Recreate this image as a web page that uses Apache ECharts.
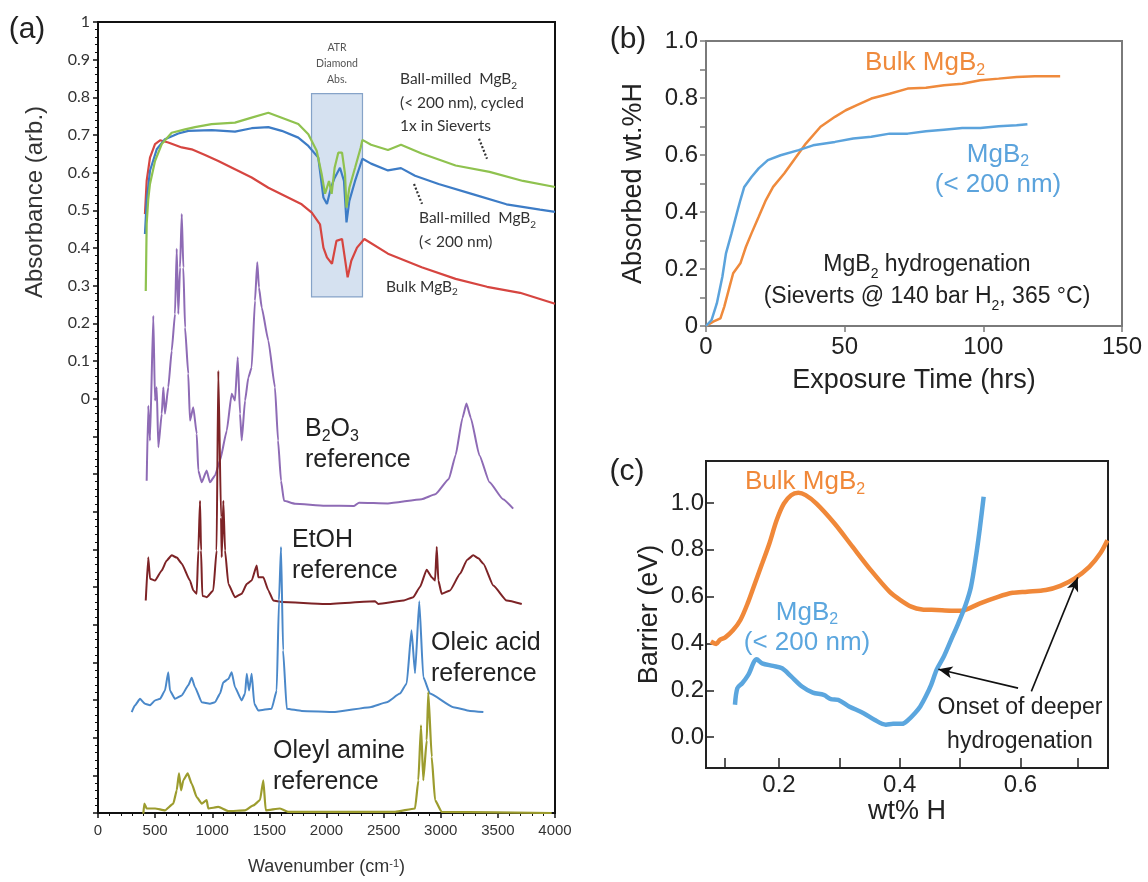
<!DOCTYPE html>
<html>
<head>
<meta charset="utf-8">
<title>MgB2 hydrogenation</title>
<script src="https://cdn.jsdelivr.net/npm/echarts@6.0.0/dist/echarts.min.js"></script>
<style>
  html, body { margin: 0; padding: 0; background: #fff; }
  #main { width: 1148px; height: 882px; }
</style>
</head>
<body>
<div id="main"></div>
<script>
// (a) FTIR spectra, [wavenumber (cm-1), absorbance (arb.)], references offset below 0
const cycledMgB2 = [[418,0.286],[426,0.464],[440,0.53],[455,0.570],[499,0.631],[558,0.676],[645,0.706],[762,0.715],[849,0.721],[994,0.729],[1199,0.733],[1345,0.746],[1491,0.759],[1608,0.746],[1753,0.729],[1841,0.702],[1914,0.658],[1957,0.597],[1987,0.544],[2022,0.578],[2045,0.544],[2071,0.613],[2103,0.653],[2136,0.653],[2162,0.597],[2175,0.507],[2200,0.560],[2250,0.613],[2299,0.666],[2314,0.687],[2390,0.674],[2538,0.660],[2652,0.674],[2833,0.651],[3130,0.619],[3427,0.602],[3720,0.578],[4000,0.562]];
const milledMgB2 = [[411,0.437],[426,0.525],[455,0.605],[514,0.662],[586,0.689],[703,0.704],[790,0.711],[995,0.713],[1199,0.709],[1345,0.718],[1491,0.721],[1608,0.711],[1753,0.693],[1841,0.671],[1928,0.640],[1973,0.534],[2004,0.517],[2039,0.560],[2071,0.586],[2118,0.613],[2153,0.578],[2175,0.468],[2200,0.525],[2250,0.578],[2314,0.637],[2390,0.624],[2538,0.606],[2652,0.612],[2775,0.592],[2981,0.570],[3278,0.543],[3575,0.516],[3869,0.502],[4000,0.496]];
const bulkMgB2 = [[411,0.490],[426,0.578],[455,0.640],[499,0.676],[543,0.686],[615,0.680],[733,0.667],[820,0.662],[937,0.647],[1053,0.631],[1199,0.609],[1345,0.587],[1491,0.560],[1637,0.538],[1783,0.516],[1871,0.494],[1943,0.463],[1973,0.401],[2004,0.375],[2048,0.358],[2087,0.419],[2136,0.424],[2168,0.358],[2185,0.322],[2217,0.366],[2267,0.401],[2331,0.424],[2538,0.385],[2833,0.349],[3130,0.318],[3405,0.297],[3694,0.281],[4000,0.252]];
const b2o3Ref = [[426,-0.218],[440,-0.019],[455,-0.111],[484,0.220],[499,-0.005],[514,0.030],[528,-0.129],[558,-0.040],[572,0.030],[586,-0.040],[615,0.030],[645,0.127],[674,0.225],[689,0.398],[703,0.225],[718,0.348],[733,0.490],[747,0.348],[762,0.189],[790,0.066],[805,-0.058],[834,-0.023],[864,-0.093],[878,-0.191],[908,-0.222],[951,-0.191],[980,-0.222],[1024,-0.204],[1068,-0.164],[1127,-0.085],[1170,0.013],[1199,-0.005],[1223,0.110],[1243,-0.040],[1258,-0.111],[1287,-0.005],[1316,0.056],[1345,0.083],[1374,0.260],[1394,0.362],[1409,0.295],[1433,0.242],[1491,0.154],[1549,0.030],[1576,-0.111],[1602,-0.218],[1628,-0.271],[1724,-0.279],[1987,-0.284],[2241,-0.285],[2285,-0.276],[2537,-0.278],[2833,-0.267],[2952,-0.254],[3071,-0.213],[3130,-0.150],[3190,-0.051],[3225,-0.013],[3263,-0.051],[3338,-0.150],[3427,-0.222],[3545,-0.267],[3634,-0.292]];
const etohRef = [[418,-0.536],[440,-0.421],[455,-0.478],[499,-0.483],[558,-0.456],[600,-0.430],[645,-0.416],[690,-0.422],[733,-0.438],[805,-0.483],[834,-0.509],[864,-0.518],[878,-0.403],[893,-0.271],[902,-0.403],[913,-0.523],[951,-0.527],[1009,-0.509],[1038,-0.403],[1053,0.074],[1077,-0.315],[1083,-0.421],[1097,-0.271],[1112,-0.403],[1141,-0.492],[1199,-0.527],[1258,-0.518],[1302,-0.492],[1345,-0.483],[1389,-0.443],[1403,-0.474],[1447,-0.474],[1491,-0.509],[1534,-0.536],[1608,-0.540],[1987,-0.545],[2425,-0.538],[2453,-0.545],[2672,-0.536],[2760,-0.527],[2818,-0.500],[2877,-0.454],[2921,-0.474],[2950,-0.483],[2965,-0.394],[2979,-0.483],[3008,-0.518],[3081,-0.509],[3169,-0.465],[3230,-0.428],[3285,-0.416],[3330,-0.424],[3373,-0.438],[3460,-0.496],[3577,-0.536],[3709,-0.545]];
const oleicRef = [[295,-0.832],[324,-0.814],[368,-0.797],[411,-0.810],[455,-0.814],[499,-0.801],[543,-0.797],[586,-0.775],[615,-0.726],[630,-0.775],[674,-0.797],[733,-0.788],[790,-0.761],[820,-0.741],[849,-0.766],[908,-0.806],[980,-0.810],[1024,-0.806],[1068,-0.783],[1097,-0.753],[1141,-0.744],[1170,-0.726],[1199,-0.766],[1258,-0.801],[1287,-0.783],[1302,-0.730],[1322,-0.775],[1345,-0.730],[1368,-0.810],[1403,-0.828],[1520,-0.823],[1564,-0.775],[1584,-0.536],[1602,-0.394],[1620,-0.668],[1652,-0.823],[1783,-0.829],[2074,-0.832],[2381,-0.819],[2527,-0.806],[2643,-0.783],[2702,-0.756],[2744,-0.615],[2775,-0.729],[2812,-0.538],[2847,-0.739],[2906,-0.783],[3110,-0.819],[3256,-0.829],[3373,-0.832]];
const oleylRef = [[397,-1.102],[405,-1.075],[426,-1.088],[499,-1.088],[586,-1.093],[659,-1.075],[689,-1.040],[709,-0.995],[727,-1.040],[747,-1.013],[785,-0.995],[820,-1.022],[864,-1.058],[908,-1.075],[951,-1.066],[965,-1.088],[1053,-1.084],[1141,-1.095],[1287,-1.093],[1359,-1.080],[1418,-1.066],[1447,-1.013],[1468,-1.093],[1593,-1.088],[1666,-1.097],[2600,-1.097],[2775,-1.088],[2804,-1.013],[2827,-0.867],[2847,-1.013],[2877,-0.907],[2891,-0.779],[2921,-0.951],[2950,-1.066],[3008,-1.097],[3971,-1.100]];
// ATR diamond absorption window [cm-1 range, absorbance range]
const atrBox = [[1869, 0.27], [2315, 0.81]];
// dotted leader lines from the labels to the curves
const leaders = [[[3335, 0.690], [3405, 0.637]], [[2766, 0.570], [2836, 0.517]]];

// (b) Sieverts uptake, [exposure time (hrs), absorbed wt.% H]
const bulkUptake = [[0,0],[2.6,0.015],[5.2,0.027],[6.6,0.068],[8.5,0.138],[9.8,0.185],[12.4,0.220],[14.4,0.278],[16.4,0.325],[19.0,0.383],[21.6,0.442],[24.2,0.488],[28.2,0.535],[32.1,0.588],[36.0,0.640],[41.3,0.699],[46.5,0.734],[50.4,0.757],[54.4,0.775],[59.6,0.798],[66.2,0.815],[72.7,0.833],[79.3,0.836],[85.8,0.845],[92.4,0.850],[98.9,0.862],[105.5,0.868],[112,0.874],[118.6,0.876],[127.7,0.876]];
const nanoUptake = [[0,0],[2,0.021],[3.9,0.079],[5.9,0.173],[7.2,0.255],[9.2,0.325],[11.1,0.395],[12.4,0.442],[13.8,0.488],[16.4,0.523],[19.0,0.553],[22.3,0.582],[26.9,0.599],[33.4,0.617],[38.6,0.634],[46.5,0.646],[53.1,0.658],[59.6,0.664],[66.2,0.675],[72.7,0.675],[79.3,0.683],[85.8,0.689],[92.4,0.695],[98.9,0.695],[105.5,0.701],[112,0.704],[115.9,0.708]];

// (c) barrier vs. hydrogen content, [wt% H, barrier (eV)]
const bulkBarrier = [[0.087,0.408],[0.096,0.398],[0.102,0.415],[0.111,0.426],[0.124,0.457],[0.136,0.500],[0.148,0.571],[0.160,0.656],[0.172,0.741],[0.184,0.827],[0.196,0.926],[0.208,0.997],[0.220,1.033],[0.232,1.043],[0.244,1.033],[0.262,0.997],[0.292,0.912],[0.322,0.812],[0.352,0.713],[0.383,0.621],[0.401,0.585],[0.419,0.557],[0.437,0.545],[0.461,0.543],[0.485,0.540],[0.503,0.540],[0.515,0.550],[0.533,0.571],[0.563,0.599],[0.587,0.616],[0.611,0.621],[0.642,0.628],[0.666,0.646],[0.690,0.678],[0.714,0.727],[0.732,0.784],[0.744,0.841]];
const nanoBarrier = [[0.127,0.138],[0.131,0.209],[0.139,0.230],[0.149,0.266],[0.163,0.332],[0.172,0.315],[0.190,0.304],[0.205,0.294],[0.220,0.259],[0.238,0.216],[0.256,0.190],[0.274,0.180],[0.286,0.162],[0.298,0.159],[0.316,0.131],[0.340,0.102],[0.358,0.074],[0.377,0.053],[0.389,0.057],[0.404,0.057],[0.413,0.071],[0.425,0.102],[0.434,0.131],[0.443,0.173],[0.452,0.223],[0.461,0.287],[0.473,0.344],[0.485,0.415],[0.497,0.486],[0.509,0.564],[0.518,0.642],[0.527,0.784],[0.533,0.898],[0.539,1.026]];
const onsetArrows = [[[0.596, 0.209], [0.464, 0.290]], [[0.618, 0.195], [0.695, 0.682]]];
const barrierTicksY = [0, 0.2, 0.4, 0.6, 0.8, 1.0];
const wtTicks = [0.11, 0.2, 0.3, 0.4, 0.5, 0.6, 0.695];
const wtLabels = [0.2, 0.4, 0.6];

const ARIAL = '"Liberation Sans", Arial, Helvetica, sans-serif';
const CAL = 'Lato, "Open Sans", sans-serif';

// text with {s|..} subscripts
function txt(x, y, text, size, color, opts) {
  opts = opts || {};
  const font = opts.font || ARIAL;
  const lh = opts.lineHeight || Math.round(size * 1.2);
  const sub = Math.round(size * 0.62);
  return {
    type: 'text', x: x, y: y, silent: true, rotation: opts.rotation || 0,
    style: {
      text: text, fontSize: size, fontFamily: font, fill: color,
      align: opts.align || 'left', verticalAlign: 'middle', lineHeight: lh,
      rich: {
        s: { fontSize: sub, fontFamily: font, fill: color, verticalAlign: 'bottom', lineHeight: sub + 2 }
      }
    }
  };
}

function lineSeries(data, color, width, xi, opts) {
  return Object.assign({
    type: 'line', data: data, xAxisIndex: xi, yAxisIndex: xi,
    showSymbol: false, symbol: 'none', z: 3, silent: true,
    lineStyle: { color: color, width: width },
    itemStyle: { color: color },
    emphasis: { disabled: true }
  }, opts || {});
}

const chart = echarts.init(document.getElementById('main'), null, { renderer: 'canvas' });

const tenth = v => Math.round(v * 10) / 10;
const spectrum = { smooth: 0.15, smoothMonotone: 'x' };

const option = {
  animation: false,
  backgroundColor: '#fff',
  grid: [
    { left: 98, top: 22, width: 457, height: 791, show: true, borderColor: '#111', borderWidth: 2, outerBoundsMode: 'none' },
    { left: 706, top: 41, width: 416, height: 285, show: true, borderColor: '#7a7a7a', borderWidth: 2, outerBoundsMode: 'none' },
    { left: 706, top: 461, width: 402, height: 307, show: true, borderColor: '#222', borderWidth: 2, outerBoundsMode: 'none' }
  ],
  xAxis: [
    {
      gridIndex: 0, type: 'value', min: 0, max: 4000, interval: 500,
      name: 'Wavenumber (cm{p|-1})', nameLocation: 'middle', nameGap: 45,
      nameTextStyle: { fontSize: 18, fontFamily: ARIAL, color: '#333',
        rich: { p: { fontSize: 11, fontFamily: ARIAL, color: '#333', verticalAlign: 'top', lineHeight: 12 } } },
      axisLine: { onZero: false, lineStyle: { color: '#111', width: 2 } },
      axisTick: { length: 5, lineStyle: { color: '#111', width: 1.5 } },
      minorTick: { show: true, splitNumber: 5, length: 3, lineStyle: { color: '#111' } },
      axisLabel: { fontSize: 15, fontFamily: ARIAL, color: '#333', margin: 10, formatter: v => String(v) },
      splitLine: { show: false }
    },
    {
      gridIndex: 1, type: 'value', min: 0, max: 150, interval: 50,
      name: 'Exposure Time (hrs)', nameLocation: 'middle', nameGap: 41,
      nameTextStyle: { fontSize: 27, fontFamily: ARIAL, color: '#222' },
      axisLine: { onZero: false, lineStyle: { color: '#7a7a7a', width: 2 } },
      axisTick: { length: 6, lineStyle: { color: '#7a7a7a', width: 1.5 } },
      axisLabel: { fontSize: 24, fontFamily: ARIAL, color: '#222', margin: 9 },
      splitLine: { show: false }
    },
    {
      gridIndex: 2, type: 'value', min: 0.079, max: 0.745,
      name: 'wt% H', nameLocation: 'middle', nameGap: 27,
      nameTextStyle: { fontSize: 27, fontFamily: ARIAL, color: '#222' },
      axisLine: { onZero: false, lineStyle: { color: '#222', width: 2 } },
      axisTick: { inside: true, length: 10, customValues: wtTicks, lineStyle: { color: '#222', width: 1.5 } },
      axisLabel: { fontSize: 24, fontFamily: ARIAL, color: '#222', margin: 5, customValues: wtLabels,
        formatter: v => v.toFixed(1) },
      splitLine: { show: false }
    }
  ],
  yAxis: [
    {
      gridIndex: 0, type: 'value', min: -1.1, max: 1.0, interval: 0.1,
      axisLine: { onZero: false, lineStyle: { color: '#111', width: 2 } },
      axisTick: { length: 5, lineStyle: { color: '#111', width: 1.5 } },
      minorTick: { show: true, splitNumber: 5, length: 3, lineStyle: { color: '#111' } },
      axisLabel: { fontSize: 16, fontFamily: CAL, color: '#333', margin: 8,
        formatter: v => { const t = tenth(v); if (t < 0) return ''; if (t === 0) return '0'; if (t === 1) return '1'; return t.toFixed(1); } },
      splitLine: { show: false }
    },
    {
      gridIndex: 1, type: 'value', min: 0, max: 1.0, interval: 0.1,
      name: 'Absorbed wt.%H', nameLocation: 'middle', nameGap: 59,
      nameTextStyle: { fontSize: 27, fontFamily: ARIAL, color: '#222' },
      axisLine: { onZero: false, lineStyle: { color: '#7a7a7a', width: 2 } },
      axisTick: { length: 6, lineStyle: { color: '#7a7a7a', width: 1.5 } },
      axisLabel: { fontSize: 24, fontFamily: ARIAL, color: '#222', margin: 8,
        formatter: v => { const t = Math.round(v * 10); if (t % 2) return ''; return t === 0 ? '0' : (t / 10).toFixed(1); } },
      splitLine: { show: false }
    },
    {
      gridIndex: 2, type: 'value', min: -0.132, max: 1.179,
      name: 'Barrier (eV)', nameLocation: 'middle', nameGap: 43,
      nameTextStyle: { fontSize: 27, fontFamily: ARIAL, color: '#222' },
      axisLine: { onZero: false, lineStyle: { color: '#222', width: 2 } },
      axisTick: { inside: true, length: 8, customValues: barrierTicksY, lineStyle: { color: '#222', width: 1.5 } },
      axisLabel: { fontSize: 24, fontFamily: ARIAL, color: '#222', margin: 2, customValues: barrierTicksY,
        formatter: v => v.toFixed(1) },
      splitLine: { show: false }
    }
  ],
  series: [
    {
      type: 'line', xAxisIndex: 0, yAxisIndex: 0, data: [], z: 1, silent: true,
      markArea: {
        silent: true,
        itemStyle: { color: 'rgba(185,205,230,0.6)', borderColor: '#86a3c8', borderWidth: 1.2 },
        label: { show: true, position: 'top', distance: 5, formatter: 'ATR\nDiamond\nAbs.',
          fontSize: 10.5, fontFamily: CAL, color: '#555', lineHeight: 16 },
        data: [[{ coord: atrBox[0] }, { coord: atrBox[1] }]]
      }
    },
    lineSeries(b2o3Ref, '#8e6bb5', 2, 0, spectrum),
    lineSeries(etohRef, '#7d2326', 2, 0, spectrum),
    lineSeries(oleicRef, '#4a88c9', 2, 0, spectrum),
    lineSeries(oleylRef, '#9c9c2e', 2.2, 0, spectrum),
    lineSeries(bulkMgB2, '#d64540', 2.2, 0),
    lineSeries(milledMgB2, '#3d7cc6', 2.2, 0),
    lineSeries(cycledMgB2, '#8fc24f', 2.2, 0, {
      markLine: {
        silent: true, symbol: ['none', 'none'],
        lineStyle: { color: '#333', width: 2.2, type: [2, 2] },
        label: { show: false },
        data: leaders.map(l => [{ coord: l[0] }, { coord: l[1] }])
      }
    }),
    lineSeries(bulkUptake, '#ef8a3c', 2.5, 1),
    lineSeries(nanoUptake, '#5ba3dc', 2.5, 1),
    lineSeries(bulkBarrier, '#f08839', 4.5, 2, {
      smooth: 0.3,
      markLine: {
        silent: true, symbol: ['none', 'arrow'], symbolSize: [9, 14],
        lineStyle: { color: '#111', width: 1.6, type: 'solid' },
        label: { show: false },
        data: onsetArrows.map(l => [{ coord: l[0] }, { coord: l[1] }])
      }
    }),
    lineSeries(nanoBarrier, '#5ba6de', 4.5, 2, { smooth: 0.3 })
  ],
  graphic: [
    txt(27, 30, '(a)', 30, '#222', { align: 'center' }),
    txt(628, 40, '(b)', 30, '#222', { align: 'center' }),
    txt(627, 472, '(c)', 30, '#222', { align: 'center' }),
    txt(35, 202, 'Absorbance (arb.)', 24, '#333', { align: 'center', rotation: Math.PI / 2 }),
    // (a) annotations
    txt(400, 102.5, 'Ball-milled  MgB{s|2}\n(< 200 nm), cycled\n1x in Sieverts', 15.5, '#333', { font: CAL, lineHeight: 23.5 }),
    txt(419, 230, 'Ball-milled  MgB{s|2}\n(< 200 nm)', 15.5, '#333', { font: CAL, lineHeight: 24 }),
    txt(386, 287, 'Bulk MgB{s|2}', 15.5, '#333', { font: CAL }),
    txt(305, 445, 'B{s|2}O{s|3}\nreference', 25, '#222', { lineHeight: 31 }),
    txt(292, 556, 'EtOH\nreference', 25, '#222', { lineHeight: 31 }),
    txt(431, 659, 'Oleic acid\nreference', 25, '#222', { lineHeight: 31 }),
    txt(273, 767, 'Oleyl amine\nreference', 25, '#222', { lineHeight: 31 }),
    // (b) annotations
    txt(865, 63, 'Bulk MgB{s|2}', 26, '#ef8a3c'),
    txt(998, 170, 'MgB{s|2}\n(< 200 nm)', 26, '#5ba3dc', { align: 'center', lineHeight: 30 }),
    txt(927, 281, 'MgB{s|2} hydrogenation\n(Sieverts @ 140 bar H{s|2}, 365 °C)', 23, '#222', { align: 'center', lineHeight: 32 }),
    // (c) annotations
    txt(745, 482, 'Bulk MgB{s|2}', 26, '#f08839'),
    txt(807, 628, 'MgB{s|2}\n(< 200 nm)', 26, '#5ba6de', { align: 'center', lineHeight: 30 }),
    txt(1020, 725, 'Onset of deeper\nhydrogenation', 23, '#222', { align: 'center', lineHeight: 34 })
  ]
};

chart.setOption(option);
</script>
</body>
</html>
